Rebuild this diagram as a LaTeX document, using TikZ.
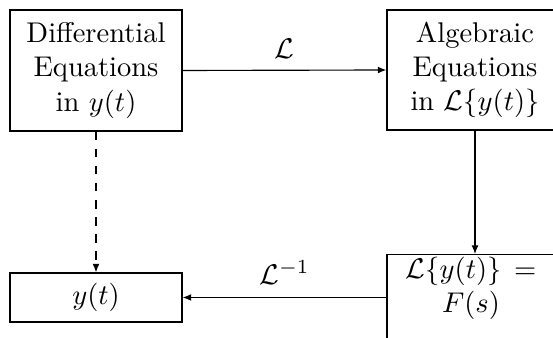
\documentclass[tikz,border=0pt]{standalone}
\usetikzlibrary{arrows.meta}
\begin{document}
\begin{tikzpicture}[x=0.3509pt,y=-0.3509pt,
  box/.style={draw, inner sep=0pt, align=center},
  arr/.style={-{Latex[length=3pt,width=2.4pt]}}]
\useasboundingbox (0,0) rectangle (553,338);
\clip (0,0) rectangle (553,338);
\node[box, minimum width=60.4pt, minimum height=42.5pt] (b1) at (96,70.5) {Differential\\Equations\\in $y(t)$};
\node[box, minimum width=61.8pt, minimum height=42.1pt] (b2) at (475,70) {Algebraic\\Equations\\in $\mathcal{L}\{y(t)\}$};
\node[box, minimum width=61.8pt, minimum height=42.1pt, anchor=north] (b3) at (475,254) {};
\node[align=center, inner sep=0pt] (b3t) at (471,288.5) {$\mathcal{L}\{y(t)\}\,=$\\$F(s)$};
\node[box, minimum width=60.4pt, minimum height=17.2pt] (b4) at (96,297.5) {$y(t)$};
\draw[arr] (b1.east) -- node[above=0.7pt] (l1) {$\mathcal{L}$} (b2.west);
\draw[arr] (b2.south) -- (b3.north);
\draw[arr] (b3.west |- b4.east) -- node[above=1.2pt] (l2) {$\mathcal{L}^{-1}$} (b4.east);
\draw[arr, dashed] (b1.south) -- (b4.north);
\end{tikzpicture}
\end{document}
